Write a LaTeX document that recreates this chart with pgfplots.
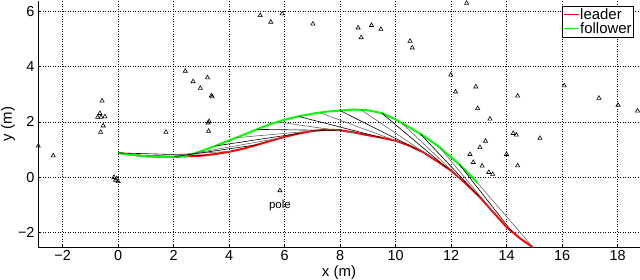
\documentclass[border=0pt]{standalone}
\usepackage{fontspec}
\setmainfont{Liberation Sans}
\usepackage{pgfplots}
\pgfplotsset{compat=1.18}
\definecolor{mred}{rgb}{1,0,0}
\definecolor{mgreen}{rgb}{0,1,0}
\begin{document}
\begin{tikzpicture}
\begin{axis}[
  at={(0,0)}, anchor=south west,
  scale only axis, width=602bp, height=246bp,
  xmin=-2.89, xmax=18.81, ymin=-2.52, ymax=6.37,
  axis x line*=bottom, axis y line*=left,
  axis line style={-, line width=0.8pt},
  xtick={-2,0,2,4,6,8,10,12,14,16,18},
  xticklabels={−2,0,2,4,6,8,10,12,14,16,18},
  ytick={-2,0,2,4,6},
  yticklabels={−2,0,2,4,6},
  tick align=inside, major tick length=3bp,
  tick style={black, line width=0.5pt},
  grid=major,
  major grid style={black, line width=0.6pt, dash pattern=on 1bp off 1.5bp},
  tick label style={font=\fontsize{14.5}{16}\selectfont},
  xlabel={x (m)}, ylabel={y (m)},
  label style={font=\fontsize{15}{17}\selectfont},
  xlabel style={at={(axis description cs:0.5,-0.104)}, anchor=center},
  ylabel style={at={(axis description cs:-0.05,0.5)}, anchor=center},
  legend style={at={(0.99,0.98)}, anchor=north east,
    font=\fontsize{15}{17}\selectfont, draw=black, line width=0.6pt,
    inner sep=1bp, row sep=0bp, cells={anchor=west},
    nodes={inner sep=1bp}},
  legend image code/.code={\draw[#1, line width=1.2pt] (0bp,0bp) -- (15bp,0bp);},
]
% leader
\addplot[mred, line width=2pt] coordinates {
(0,0.88) (0.5,0.81) (1.0,0.76) (1.5,0.74) (2.0,0.74) (2.5,0.76) (3.0,0.78) (3.5,0.84) (4.0,0.92) (4.5,1.03) (5.0,1.17) (5.5,1.32) (6.0,1.46) (6.5,1.58) (7.0,1.67) (7.5,1.72) (8.0,1.70) (8.5,1.62) (9.0,1.52) (9.5,1.43) (10.0,1.32) (10.5,1.14) (11.0,0.90) (11.5,0.58) (12.0,0.24) (12.5,-0.20) (13.0,-0.68) (13.5,-1.24) (14.0,-1.80) (14.5,-2.22) (14.95,-2.53)
};
\addlegendentry{leader}
% follower
\addplot[mgreen, line width=2pt] coordinates {
(0,0.88) (0.5,0.81) (1.0,0.76) (1.5,0.74) (2.0,0.74) (2.5,0.78) (3.0,0.95) (3.5,1.13) (4.0,1.33) (4.5,1.53) (5.0,1.73) (5.5,1.93) (6.0,2.08) (6.5,2.20) (7.0,2.30) (7.5,2.37) (8.0,2.41) (8.5,2.45) (9.0,2.42) (9.5,2.32) (10.0,2.09) (10.5,1.80) (11.0,1.50) (11.5,1.15) (12.0,0.73) (12.5,0.27) (12.95,-0.20)
};
\addlegendentry{follower}
% links
\addplot[black, line width=0.6pt, forget plot] coordinates {(0,0.88) (3.1,0.79)};
\addplot[black!60, line width=0.6pt, forget plot] coordinates {(1.0,0.76) (4.1,0.94)};
\addplot[black, line width=0.6pt, forget plot] coordinates {(2.0,0.74) (5.05,1.18)};
\addplot[black!60, line width=0.6pt, forget plot] coordinates {(2.8,0.88) (5.85,1.42)};
\addplot[black, line width=0.6pt, forget plot] coordinates {(3.5,1.13) (6.55,1.59)};
\addplot[black!60, line width=0.6pt, forget plot] coordinates {(4.25,1.43) (7.3,1.70)};
\addplot[black, line width=0.6pt, forget plot] coordinates {(5.0,1.73) (8.05,1.69)};
\addplot[black!60, line width=0.6pt, forget plot] coordinates {(5.75,2.0) (8.75,1.57)};
\addplot[black, line width=0.6pt, forget plot] coordinates {(6.5,2.2) (9.5,1.43)};
\addplot[black!60, line width=0.6pt, forget plot] coordinates {(7.25,2.34) (10.2,1.25)};
\addplot[black, line width=0.6pt, forget plot] coordinates {(8.0,2.41) (10.8,1.0)};
\addplot[black!60, line width=0.6pt, forget plot] coordinates {(8.75,2.44) (11.35,0.68)};
\addplot[black, line width=0.6pt, forget plot] coordinates {(9.5,2.32) (11.85,0.34)};
\addplot[black!60, line width=0.6pt, forget plot] coordinates {(10.2,1.98) (12.4,-0.11)};
\addplot[black, line width=0.6pt, forget plot] coordinates {(10.9,1.56) (13.0,-0.68)};
\addplot[black!60, line width=0.6pt, forget plot] coordinates {(11.6,1.07) (13.6,-1.35)};
\addplot[black, line width=0.6pt, forget plot] coordinates {(12.3,0.46) (14.2,-1.97)};
\addplot[black!60, line width=0.6pt, forget plot] coordinates {(12.95,-0.2) (14.95,-2.53)};
% obstacles
\addplot[only marks, mark=triangle, mark size=2.4bp, black, line width=0.6pt, forget plot] coordinates {
(-2.88,1.13) (-2.34,0.78)
(-0.58,2.76) (-0.66,2.31) (-0.74,2.17) (-0.62,2.17) (-0.48,2.19) (-0.54,1.86) (-0.63,1.63)
(-0.15,0.00) (-0.05,-0.05) (0.00,-0.15) (-0.10,-0.10)
(1.72,1.63) (2.42,3.84) (2.70,3.46) (2.96,3.22) (3.22,3.60) (3.39,2.91) (3.36,2.95)
(3.24,1.97) (3.28,2.02) (3.26,1.67)
(5.12,5.85) (5.50,5.61) (5.91,5.91) (7.02,5.54) (8.65,5.40) (9.13,5.49) (9.47,5.35) (8.76,5.05)
(10.52,4.92) (10.60,4.68)
(12.56,6.29) (11.99,3.70) (12.16,3.09) (12.89,3.27) (14.40,2.94) (12.96,2.49) (13.40,2.11)
(16.08,3.31) (17.33,2.86) (18.02,2.61) (18.72,2.40)
(13.24,1.31) (13.04,1.08) (12.68,0.83) (12.80,0.54) (13.12,0.41) (13.36,0.18) (13.50,0.11)
(14.24,1.59) (14.35,1.53) (15.20,1.41) (14.00,0.83) (14.40,0.42)
(5.83,-0.48)
};
\node[font=\fontsize{11.5}{13}\selectfont] at (axis cs:5.83,-1.03) {pole};
\end{axis}
\pgfresetboundingbox
\path[use as bounding box] (-38bp,-33bp) rectangle (602bp,247bp);
\end{tikzpicture}
\end{document}
